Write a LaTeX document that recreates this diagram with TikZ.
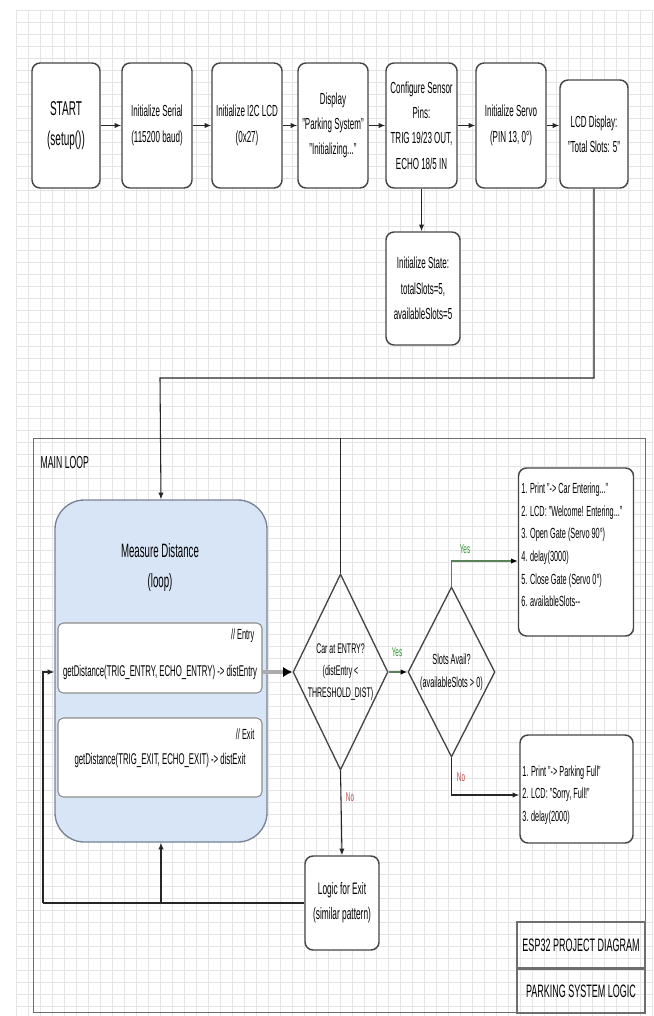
\documentclass[tikz,border=0pt]{standalone}
\usepackage{fontspec}
\setmainfont{Liberation Sans}[FakeStretch=0.5]
\usetikzlibrary{shapes.geometric,arrows.meta}
\definecolor{boxc}{RGB}{70,70,70}
\definecolor{framec}{RGB}{110,110,110}
\definecolor{gridc}{RGB}{228,228,228}
\definecolor{measf}{RGB}{216,229,247}
\definecolor{measb}{RGB}{120,130,150}
\definecolor{innerb}{RGB}{140,140,140}
\definecolor{yesc}{RGB}{40,150,40}
\definecolor{yesl}{RGB}{90,130,90}
\definecolor{noc}{RGB}{190,70,70}
\begin{document}
\begin{tikzpicture}[x=0.75pt,y=-0.75pt,
  wh/.style 2 args={minimum width=#1*0.75pt, minimum height=#2*0.75pt},
  box/.style={draw=boxc, line width=1.1pt, rounded corners=6pt, fill=white, align=center, inner sep=1pt, font=\fontsize{12}{19}\selectfont},
  inbox/.style={draw=innerb, line width=0.8pt, rounded corners=4pt, fill=white},
  dia/.style={draw=boxc, diamond, line width=1pt, inner sep=0pt},
  diat/.style={align=center, inner sep=0pt, font=\fontsize{10.5}{16.5}\selectfont},
  arr/.style={draw=black!85, line width=0.8pt, -{Latex[length=5pt,width=4pt]}},
  plain/.style={draw=black!85, line width=0.8pt},
  lbl/.style={font=\fontsize{9.5}{11}\selectfont},
  code/.style={font=\fontsize{11.7}{13}\selectfont},
  list/.style={anchor=west, align=left, inner sep=0pt, font=\fontsize{11}{17}\selectfont},
  title/.style={draw=framec, line width=0.8pt, font=\fontsize{13.5}{15}\selectfont, inner sep=0pt}]
\useasboundingbox (0,0) rectangle (653,1016);
\fill[white] (0,0) rectangle (653,1016);
% grid
\foreach \gx in {16,28,...,652} \draw[gridc, line width=0.3pt] (\gx,10) -- (\gx,1016);
\foreach \gy in {10,22,...,1016} \draw[gridc, line width=0.3pt] (16,\gy) -- (653,\gy);

% top row
\node[box,wh={68}{125}, font=\fontsize{15}{22}\selectfont] (start) at (66,125.5) {START\\(setup())};
\node[box,wh={70}{125}] (serial) at (157,125.5) {Initialize Serial\\(115200 baud)};
\node[box,wh={70}{125}] (lcdinit) at (247,125.5) {Initialize I2C LCD\\(0x27)};
\node[box,wh={70}{125}] (disp) at (333,125.5) {Display\\"Parking System"\\"Initializing..."};
\node[box,wh={71}{125}] (cfg) at (421.5,125.5) {Configure Sensor\\Pins:\\TRIG 19/23 OUT,\\ECHO 18/5 IN};
\node[box,wh={70}{125}] (servo) at (511,125.5) {Initialize Servo\\(PIN 13, 0°)};
\node[box,wh={68}{108}] (lcdtot) at (594,134) {LCD Display:\\"Total Slots: 5"};
\node[box,wh={74}{113}] (state) at (423,288.5) {Initialize State:\\totalSlots=5,\\availableSlots=5};

\draw[arr] (start.east) -- (serial.west);
\draw[arr] (serial.east) -- (lcdinit.west);
\draw[arr] (lcdinit.east) -- (disp.west);
\draw[arr] (disp.east) -- (cfg.west);
\draw[arr] (cfg.east) -- (servo.west);
\draw[arr] (servo.east) -- (servo.east -| lcdtot.west);
\draw[arr] (cfg.south) -- (cfg.south |- state.north);

% main loop frame
\node[draw=framec, line width=0.8pt, wh={612}{574}, anchor=north west, inner sep=0pt] (frame) at (33,438) {};
\node[anchor=west, font=\fontsize{13}{15}\selectfont] (mlbl) at (36,463) {MAIN LOOP};

% measure distance container
\node[draw=measb, fill=measf, line width=1pt, rounded corners=22pt, wh={212}{342}] (meas) at (161,671) {};
\node[align=center, font=\fontsize{14.5}{22.5}\selectfont] (mtitle) at (160,567) {Measure Distance\\(loop)};
\node[inbox, wh={204}{70}] (entry) at (160,658) {};
\node[anchor=east, font=\fontsize{11}{12}\selectfont] (entryc) at (259,636) {// Entry};
\node[code] (entryt) at (160,672) {getDistance(TRIG\_ENTRY, ECHO\_ENTRY) -> distEntry};
\node[inbox, wh={204}{79}] (exitb) at (160,757.5) {};
\node[anchor=east, font=\fontsize{11}{12}\selectfont] (exitc) at (259,734) {// Exit};
\node[code] (exitt) at (160,760) {getDistance(TRIG\_EXIT, ECHO\_EXIT) -> distExit};

% decisions
\node[dia, wh={95}{196}] (dia1) at (340.5,672) {};
\node[diat] (dia1t) at (dia1.center) {Car at ENTRY?\\(distEntry <\\THRESHOLD\_DIST)};
\node[dia, wh={87}{170}] (dia2) at (451.5,672) {};
\node[diat, font=\fontsize{11}{17}\selectfont] (dia2t) at (dia2.center) {Slots Avail?\\(availableSlots > 0)};

% action boxes
\node[box, wh={115}{168}] (yesbox) at (576,552) {};
\node[list] (yest) at (521,545) {1. Print "-> Car Entering..."\\2. LCD: "Welcome! Entering..."\\3. Open Gate (Servo 90°)\\4. delay(3000)\\5. Close Gate (Servo 0°)\\6. availableSlots-{}-};
\node[box, wh={113}{108}] (nobox) at (576.5,789) {};
\node[list] (not) at (522,795) {1. Print "-> Parking Full"\\2. LCD: "Sorry, Full!"\\3. delay(2000)};
\node[box, wh={74}{94}, font=\fontsize{12.5}{19}\selectfont] (logic) at (342,903) {Logic for Exit\\(similar pattern)};

% title block
\node[title, wh={128}{46}] (t1) at (581,945) {ESP32 PROJECT DIAGRAM};
\node[title, wh={128}{44}, anchor=north] (t2) at (t1.south) {PARKING SYSTEM LOGIC};

% connectors
\coordinate (turn) at (160,378);
\draw[arr] (lcdtot.south) |- (turn) -- (meas.north);
\draw[plain] (frame.north -| dia1.north) -- (dia1.north);
\draw[line width=3pt, gray!65, -{Latex[length=7pt,width=8pt,color=black]}] (entryt -| entry.east) -- (dia1.west);
\draw[draw=yesl, line width=0.9pt, -{Latex[length=5pt,width=4pt,color=black]}] (dia1.east) -- (dia2.west);
\node[lbl, text=yesc] (y1) at (397,652) {Yes};
\draw[draw=yesl, line width=0.9pt, -{Latex[length=5pt,width=4pt,color=black]}] (dia2.north) |- ([yshift=-6.75pt]yesbox.west);
\node[lbl, text=yesc] (y2) at (465,549) {Yes};
\draw[arr] (dia2.south) |- ([yshift=-4.5pt]nobox.west);
\node[lbl, text=noc] (n2) at (461,777) {No};
\draw[arr] (dia1.south) -- (logic.north);
\node[lbl, text=noc] (n1) at (350,797) {No};
\coordinate (ret) at (43,903);
\draw[plain] (logic.west) -- (ret);
\draw[arr] (ret) |- (entryt -| meas.west);
\draw[arr] (logic.west -| meas.south) -- (meas.south);
\end{tikzpicture}
\end{document}
